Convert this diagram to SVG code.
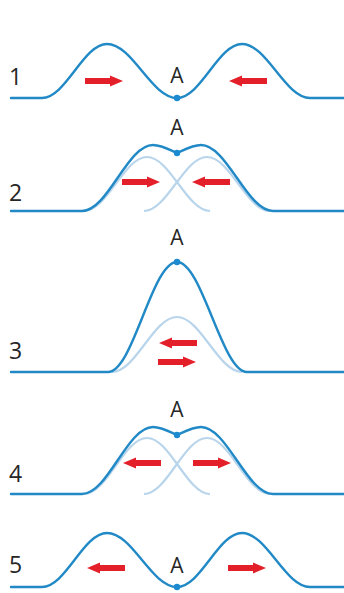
<svg xmlns="http://www.w3.org/2000/svg" xmlns:xlink="http://www.w3.org/1999/xlink" width="344" height="593" viewBox="0 0 344 593">
  <style>
    .wave { fill: none; stroke: #2189c6; stroke-width: 2.4; stroke-linejoin: round; stroke-linecap: round; }
    .light { fill: none; stroke: #b9d5ec; stroke-width: 2.2; }
    .dot { fill: #1b8ad0; }
    .num { font-family: "Open Sans", "Noto Sans", "Liberation Sans", sans-serif; font-size: 23px; fill: #262626; }
    .lbl { font-family: "Open Sans", "Noto Sans", "Liberation Sans", sans-serif; font-size: 21px; fill: #262626; text-anchor: middle; }
    .arr { fill: #e3202a; }
  </style>
  <defs>
    <path id="arrow" d="M0,-3 H25 V-5.5 L38,0 L25,5.5 V3 H0 Z"/>
  </defs>
  <rect width="344" height="593" fill="#ffffff"/>

  <g id="panel1">
    <path class="wave" d="M11,98 H42 C65.7,98 83.3,44 107,44 C132.5,44 151.5,98 177,98 C200.7,98 218.3,44 242,44 C266.8,44 285.2,98 310,98 H344"/>
    <circle class="dot" cx="177" cy="98" r="3.2"/>
    <text class="num" x="9" y="85">1</text>
    <text class="lbl" x="177" y="83">A</text>
    <use class="arr" xlink:href="#arrow" transform="translate(85,81)"/>
    <use class="arr" xlink:href="#arrow" transform="translate(267,81) scale(-1,1)"/>
  </g>

  <g id="panel2">
    <path class="light" d="M84,211 C107,211 124,157 147,157 C170,157 187,211 210,211"/>
    <path class="light" d="M144,211 C167,211 184,157 207,157 C230,157 247,211 270,211"/>
    <path class="wave" d="M11,211 H82 C108,211 127,145 153,145 C162,145 172,151 177,153 C182,151 192,145 201,145 C227,145 247,211 273,211 H344"/>
    <circle class="dot" cx="177" cy="153" r="3.2"/>
    <text class="num" x="9" y="201">2</text>
    <text class="lbl" x="177" y="135">A</text>
    <use class="arr" xlink:href="#arrow" transform="translate(122,182)"/>
    <use class="arr" xlink:href="#arrow" transform="translate(230,182) scale(-1,1)"/>
  </g>

  <g id="panel3">
    <path class="light" d="M112,372 C135.7,372 153.3,317 177,317 C200.7,317 218.3,372 242,372"/>
    <path class="wave" d="M11,372 H108 C133.1,372 151.9,262 177,262 C202.1,262 221.9,372 247,372 H344"/>
    <circle class="dot" cx="177" cy="262" r="3.2"/>
    <text class="num" x="9" y="359">3</text>
    <text class="lbl" x="177" y="245">A</text>
    <use class="arr" xlink:href="#arrow" transform="translate(197,343) scale(-1,1)"/>
    <use class="arr" xlink:href="#arrow" transform="translate(158,362)"/>
  </g>

  <g id="panel4">
    <path class="light" d="M84,494 C107,494 124,438 147,438 C170,438 187,494 210,494"/>
    <path class="light" d="M144,494 C167,494 184,438 207,438 C230,438 247,494 270,494"/>
    <path class="wave" d="M11,494 H82 C108,494 127,427 153,427 C162,427 172,433 177,435 C182,433 192,427 201,427 C227,427 247,494 273,494 H344"/>
    <circle class="dot" cx="177" cy="435" r="3.2"/>
    <text class="num" x="9" y="482">4</text>
    <text class="lbl" x="177" y="417">A</text>
    <use class="arr" xlink:href="#arrow" transform="translate(161,463) scale(-1,1)"/>
    <use class="arr" xlink:href="#arrow" transform="translate(193,463)"/>
  </g>

  <g id="panel5">
    <path class="wave" d="M11,587 H42 C65.7,587 83.3,533 107,533 C132.5,533 151.5,587 177,587 C200.7,587 218.3,533 242,533 C266.8,533 285.2,587 310,587 H344"/>
    <circle class="dot" cx="177" cy="587" r="3.2"/>
    <text class="num" x="9" y="573">5</text>
    <text class="lbl" x="177" y="573">A</text>
    <use class="arr" xlink:href="#arrow" transform="translate(125,568) scale(-1,1)"/>
    <use class="arr" xlink:href="#arrow" transform="translate(228,568)"/>
  </g>
</svg>
